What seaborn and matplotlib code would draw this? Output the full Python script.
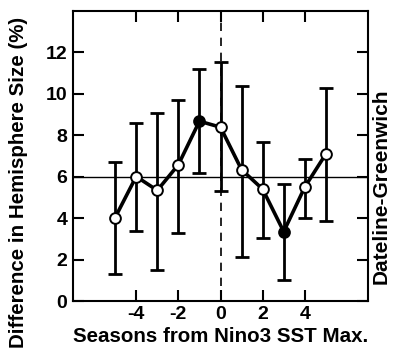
import matplotlib
matplotlib.use("Agg")
import matplotlib.pyplot as plt
import seaborn as sns
import numpy as np
import pandas as pd

seasons = [-5, -4, -3, -2, -1, 0, 1, 2, 3, 4, 5]
diff = [4.03, 6.01, 5.34, 6.58, 8.68, 8.39, 6.34, 5.40, 3.35, 5.50, 7.10]
upper = [6.72, 8.58, 9.08, 9.68, 11.20, 11.55, 10.37, 7.68, 5.64, 6.87, 10.29]
lower = [1.30, 3.39, 1.50, 3.30, 6.18, 5.29, 2.11, 3.03, 1.02, 4.03, 3.84]
significant = [False, False, False, False, True, False, False, False, True, False, False]
x_ticks = [-4, -2, 0, 2, 4]
y_ticks = [0, 2, 4, 6, 8, 10, 12]

df = pd.DataFrame({"season": seasons, "diff": diff, "upper": upper,
                   "lower": lower, "sig": significant})

sns.set_theme(style="ticks")
plt.rcParams['font.family'] = ['Liberation Sans', 'DejaVu Sans']
plt.rcParams['font.weight'] = 'bold'
for k in ["text.color", "axes.labelcolor", "xtick.color", "ytick.color", "axes.edgecolor"]:
    plt.rcParams[k] = "black"

fig = plt.figure(figsize=(3.93, 3.56), dpi=100)
ax = fig.add_axes([73/393, 55/356, 295/393, 290/356])

ax.axhline(6, color="black", lw=1.0, zorder=1)
ax.axvline(0, color="black", lw=1.2, ls=(0, (5, 4)), zorder=1)

yerr = np.array([df["diff"] - df["lower"], df["upper"] - df["diff"]])
ax.errorbar(df["season"], df["diff"], yerr=yerr, fmt="none", ecolor="black",
            elinewidth=2.0, capsize=5, capthick=2.0, zorder=2)

sns.lineplot(data=df, x="season", y="diff", color="black", lw=2.6, ax=ax, zorder=3)
sns.scatterplot(data=df[~df["sig"]], x="season", y="diff", ax=ax, s=60,
                facecolor="white", edgecolor="black", linewidth=1.4, zorder=4)
sns.scatterplot(data=df[df["sig"]], x="season", y="diff", ax=ax, s=60,
                facecolor="black", edgecolor="black", linewidth=1.4, zorder=4)

ax.set_xlim(-7, 7)
ax.set_ylim(0, 14)
ax.set_xticks(x_ticks)
ax.set_yticks(y_ticks)
ax.tick_params(direction="in", length=8, width=1.5, labelsize=14,
               top=True, right=True, bottom=True, left=True)
ax.tick_params(axis="x", pad=3.5)
ax.tick_params(axis="y", pad=4)
ax.set_xticklabels([str(t) for t in x_ticks])
for lab in ax.get_xticklabels() + ax.get_yticklabels():
    lab.set_fontweight("bold")
for sp in ax.spines.values():
    sp.set_linewidth(1.5)
    sp.set_visible(True)

ax.set_xlabel("Seasons from Nino3 SST Max.", fontsize=14.8, fontweight="bold")
ax.xaxis.set_label_coords(0.5, -0.088)
ax.set_ylabel("Difference in Hemisphere Size (%)", fontsize=14.8, fontweight="bold")
ax.yaxis.set_label_coords(-0.153, 0.409)
fig.text(381/393, 0.476, "Dateline-Greenwich", rotation=90, fontsize=15,
         fontweight="bold", ha="center", va="center")

fig.savefig("out.png", dpi=100)
